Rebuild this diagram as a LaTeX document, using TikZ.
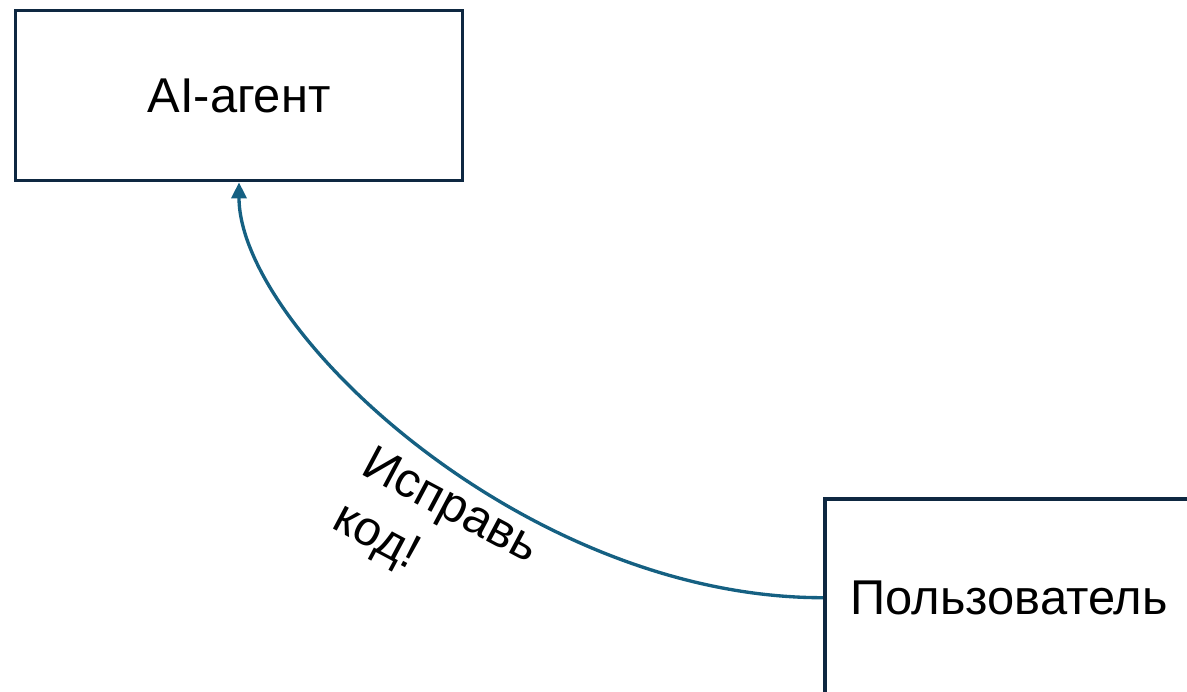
\documentclass[tikz,border=0pt]{standalone}
\usepackage{fontspec}
\setmainfont{Liberation Sans}
\usepackage{tikz}
\usetikzlibrary{positioning,arrows.meta}

\begin{document}
\begin{tikzpicture}[node distance=0.5cm, every node/.style={align=center}]
    % Office-like colours
    \definecolor{boxline}{RGB}{14,40,65}    % dark navy frame
    \definecolor{flowline}{RGB}{21,96,130}  % blue connector

    % node styles
    \tikzstyle{block} = [rectangle, draw=boxline, line width=2.1pt, fill=white, font=\fontsize{27.8}{33}\selectfont]
    \tikzstyle{msg} = [font=\fontsize{27.8}{35}\selectfont, align=left, rotate=-28]

    % fixed frame, the user box runs off the edge
    \useasboundingbox (0,0) rectangle (23.74,-13.82);
    \clip (0,0) rectangle (23.74,-13.82);

    % agent
    \node[block, minimum width=8.94cm, minimum height=3.4cm] (agent) at (4.78,-1.91) {AI-агент};

    % user
    \node[block, minimum width=7.38cm, minimum height=3.94cm, below right=6.3cm and 7.17cm of agent, anchor=north west] (user) {Пользователь};

    % request
    \node[msg] (fix) at (8.7,-10.7) {Исправь\\код!};

    % arrow
    \draw[-{Triangle[length=0.32cm, width=0.3cm]}, line width=1.9pt, flowline] (user.west) .. controls +(-6.0,0) and +(0,-2.9) .. (agent.south);
\end{tikzpicture}
\end{document}
